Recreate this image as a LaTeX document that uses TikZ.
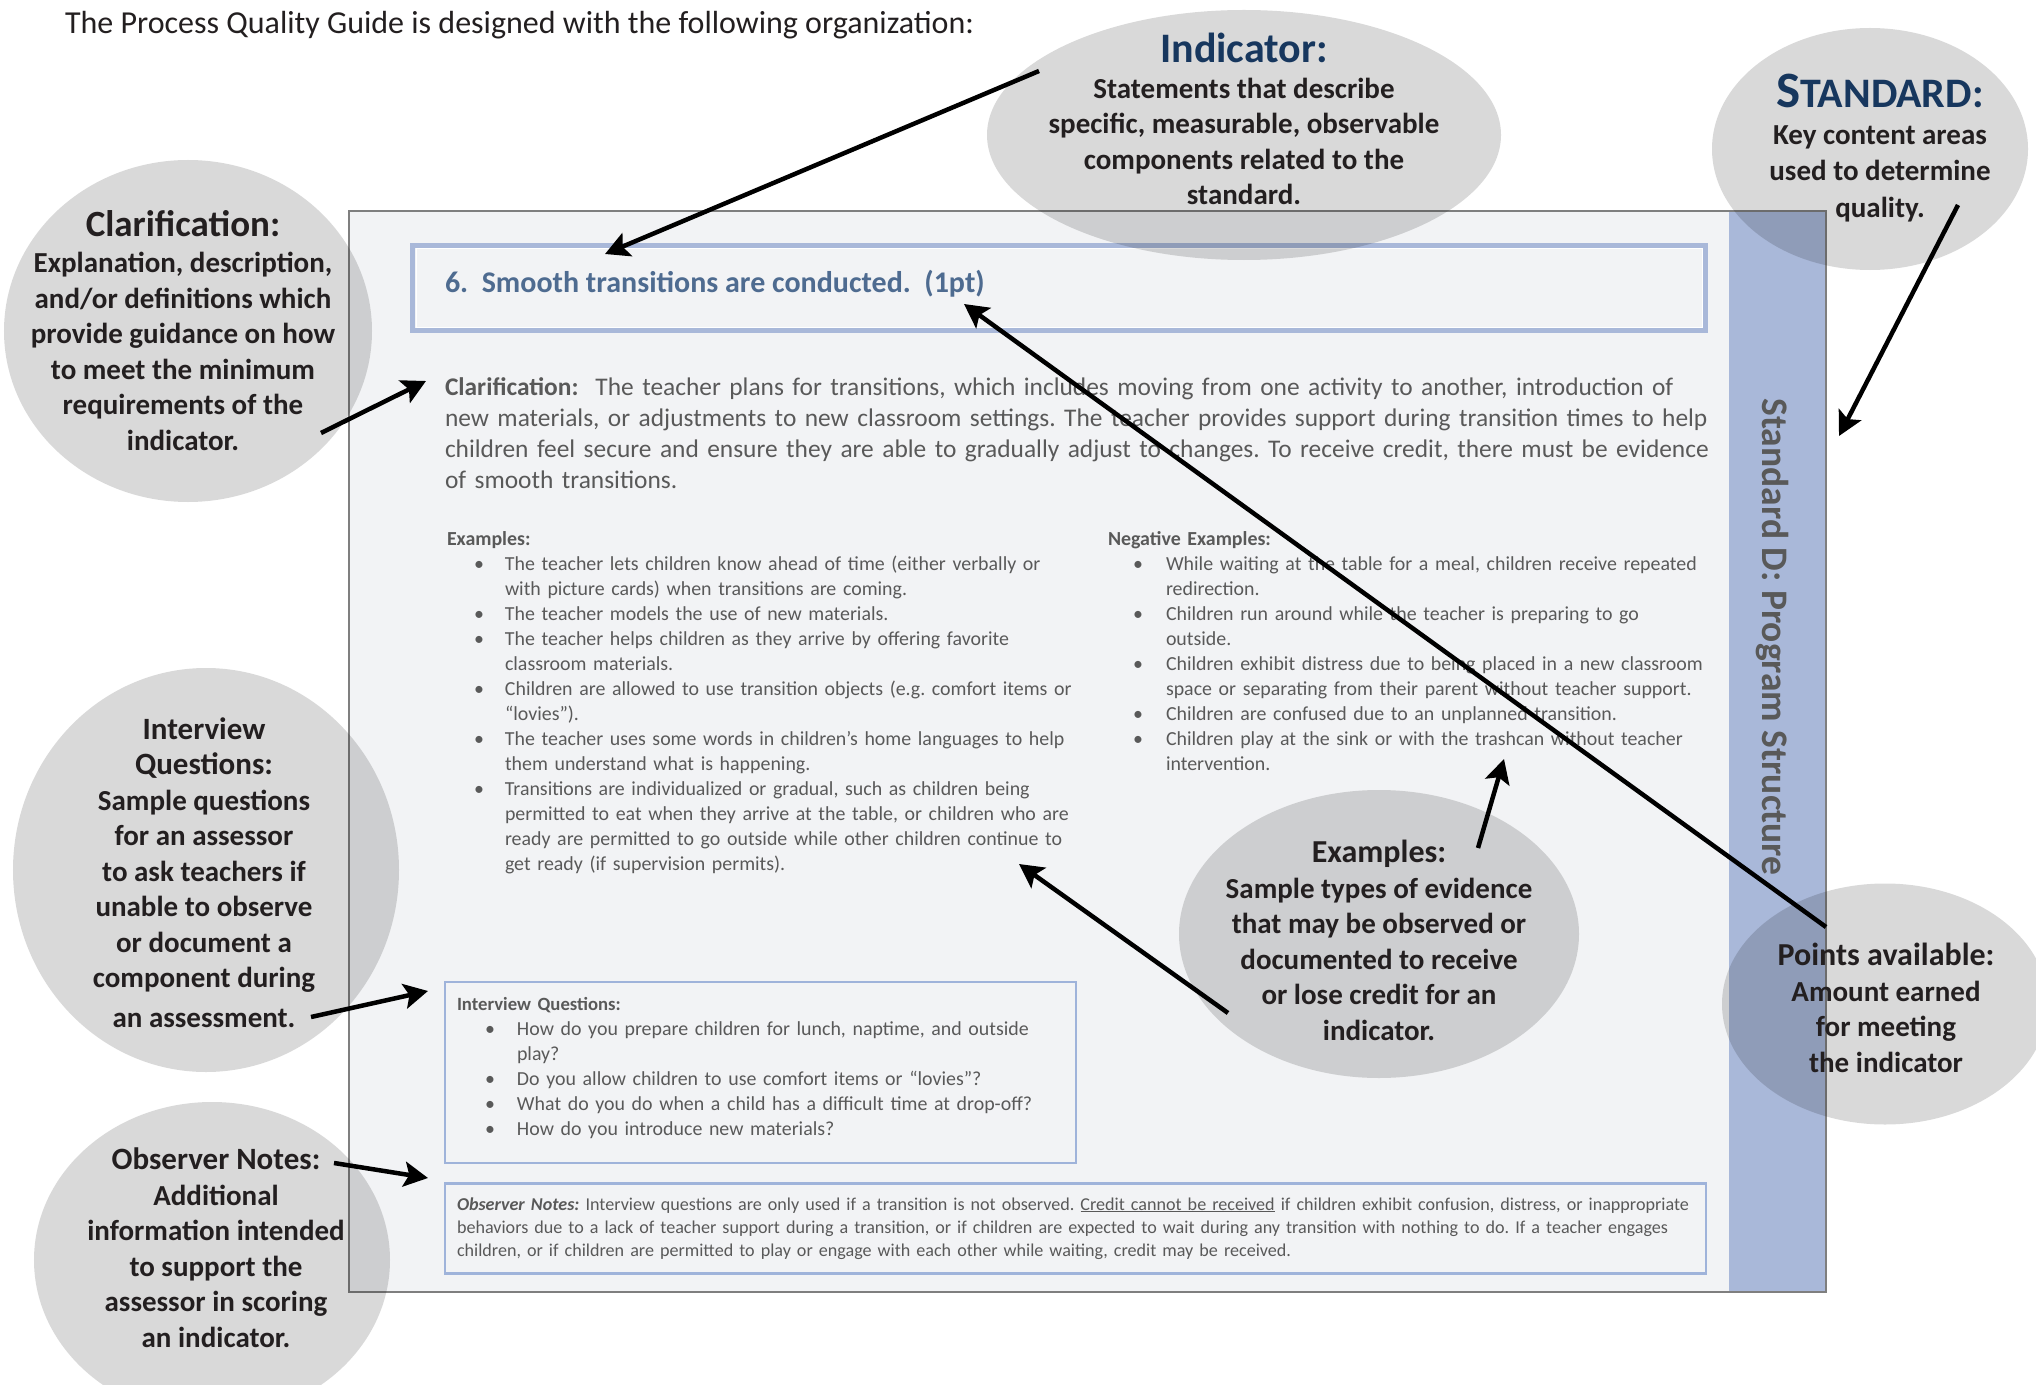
\documentclass[tikz,border=0pt]{standalone}
\usepackage{fontspec}
\setmainfont{Carlito}
\usetikzlibrary{arrows.meta,shapes.geometric}
\definecolor{navy}{HTML}{17375E}
\definecolor{bodygray}{HTML}{595959}
\definecolor{stripgray}{HTML}{595959}
\definecolor{titleblue}{HTML}{4E6B90}
\definecolor{bubbletext}{HTML}{231F20}
\definecolor{stripblue}{HTML}{A9B8D9}
\definecolor{boxblue}{HTML}{9FB3DA}
\definecolor{paper}{HTML}{F2F3F5}
\definecolor{framegray}{HTML}{7F7F7F}
\newcommand\myfs[2]{\fontsize{#1bp}{#2bp}\selectfont}
\newcommand\bitem[3]{\par\hangindent=#2bp\hangafter=1\noindent\makebox[#2bp][l]{\hspace*{#1bp}\textbullet}#3}
\frenchspacing
\begin{document}
\begin{tikzpicture}[x=1bp,y=-1bp]
\tikzset{
  every node/.style={inner sep=0pt,outer sep=0pt},
  bubble/.style={ellipse,fill=black,fill opacity=0.15,draw=none},
  btext/.style={align=center,text=bubbletext,font=\myfs{29}{35.5}\bfseries,anchor=base},
  callout/.style={line width=4.5bp,draw=black,-{Stealth[length=24bp,width=25bp,inset=5bp]}},
  bodytext/.style={align=left,text=bodygray,anchor=base west},
  inbox/.style={draw=boxblue,fill=paper,anchor=north west},
}
\useasboundingbox (0,0) rectangle (2036,1385);
\fill[white] (0,0) rectangle (2036,1385);
% frame
\node[fill=paper,minimum width=1477bp,minimum height=1081bp,anchor=north west] (frame) at (349,211) {};
\node[fill=stripblue,minimum width=97bp,minimum height=1081bp,anchor=north west] (strip) at (1729,211) {};
\draw[framegray,line width=1.5bp] (frame.north west) rectangle (frame.south east);
\node[rotate=-90,font=\myfs{37.5}{40}\bfseries,text=stripgray] (striptext) at (1772,637) {Standard D: Program Structure};
% indicator box
\node[draw=stripblue,line width=5bp,fill=paper,minimum width=1293bp,minimum height=85bp,anchor=north west] (indbox) at (412.5,245.5) {};
\draw[white,line width=1bp] ([shift={(3.5bp,-3.5bp)}]indbox.north west) rectangle ([shift={(-3.5bp,3.5bp)}]indbox.south east);
\node[anchor=base west,font=\myfs{30}{36}\bfseries,text=titleblue] (indtitle) at (445,293) {6.\ \ Smooth transitions are conducted.\ \ (1pt)};
% clarification paragraph
\node[bodytext,text width=1400bp,font=\myfs{25.4}{31}] (clartext) at (445,395) {\textbf{Clarification:}\ \ The teacher plans for transitions, which includes moving from one activity to another, introduction of\newline
new materials, or adjustments to new classroom settings. The teacher provides support during transition times to help\newline
children feel secure and ensure they are able to gradually adjust to changes. To receive credit, there must be evidence\newline
of smooth transitions.\par};
% examples
\node[bodytext,text width=700bp,font=\myfs{19.9}{25}] (extext) at (447,545) {\textbf{Examples:}
\bitem{27}{58}{The teacher lets children know ahead of time (either verbally or\newline with picture cards) when transitions are coming.}
\bitem{27}{58}{The teacher models the use of new materials.}
\bitem{27}{58}{The teacher helps children as they arrive by offering favorite\newline classroom materials.}
\bitem{27}{58}{Children are allowed to use transition objects (e.g. comfort items or\newline “lovies”).}
\bitem{27}{58}{The teacher uses some words in children’s home languages to help\newline them understand what is happening.}
\bitem{27}{58}{Transitions are individualized or gradual, such as children being\newline permitted to eat when they arrive at the table, or children who are\newline ready are permitted to go outside while other children continue to\newline get ready (if supervision permits).}\par};
% negative examples
\node[bodytext,text width=640bp,font=\myfs{19.9}{25}] (negtext) at (1108,545) {\textbf{Negative Examples:}
\bitem{25}{58}{While waiting at the table for a meal, children receive repeated\newline redirection.}
\bitem{25}{58}{Children run around while the teacher is preparing to go\newline outside.}
\bitem{25}{58}{Children exhibit distress due to being placed in a new classroom\newline space or separating from their parent without teacher support.}
\bitem{25}{58}{Children are confused due to an unplanned transition.}
\bitem{25}{58}{Children play at the sink or with the trashcan without teacher\newline intervention.}\par};
% interview box
\node[inbox,line width=2bp,minimum width=631bp,minimum height=181bp] (iqbox) at (444.5,981.5) {};
\node[bodytext,text width=600bp,font=\myfs{19.9}{25}] (iqtext) at (457,1010) {{\myfs{18.7}{25}\textbf{Interview Questions:}}
\bitem{28}{60}{How do you prepare children for lunch, naptime, and outside\newline play?}
\bitem{28}{60}{Do you allow children to use comfort items or “lovies”?}
\bitem{28}{60}{What do you do when a child has a difficult time at drop-off?}
\bitem{28}{60}{How do you introduce new materials?}\par};
% observer notes box
\node[inbox,line width=2.5bp,minimum width=1261bp,minimum height=90bp] (obsbox) at (445,1183.5) {};
\node[bodytext,text width=1300bp,font=\myfs{18.1}{23}] (obstext) at (457,1210) {\textbf{\textit{Observer Notes:}} Interview questions are only used if a transition is not observed. \underline{Credit cannot be received} if children exhibit confusion, distress, or inappropriate\newline
behaviors due to a lack of teacher support during a transition, or if children are expected to wait during any transition with nothing to do. If a teacher engages\newline
children, or if children are permitted to play or engage with each other while waiting, credit may be received.\par};
% heading
\node[anchor=base west,font=\myfs{32}{38},text=bubbletext] (head) at (65,34) {The Process Quality Guide is designed with the following organization:};
% bubbles
\node[bubble,minimum width=514bp,minimum height=250bp] (indE) at (1244,135) {};
\node[bubble,minimum width=316bp,minimum height=242bp] (stdE) at (1870,149) {};
\node[bubble,minimum width=368bp,minimum height=342bp] (clarE) at (188,331) {};
\node[bubble,minimum width=386bp,minimum height=404bp] (iqE) at (206,870) {};
\node[bubble,minimum width=356bp,minimum height=316bp] (obsE) at (212,1260) {};
\node[bubble,minimum width=400bp,minimum height=288bp] (exE) at (1379,934) {};
\node[bubble,minimum width=326bp,minimum height=241bp] (ptsE) at (1885,1004) {};
% bubble texts (anchor = baseline of last line)
\node[btext] (indT) at (1244,205) {{\myfs{42}{42}\color{navy}Indicator:}\\ Statements that describe\\ specific, measurable, observable\\ components related to the\\ standard.};
\node[btext] (stdT) at (1880,218) {{\color{navy}\myfs{51}{51}S\myfs{42}{42}TANDARD:}\\[2bp] Key content areas\\ used to determine\\[2bp] quality.};
\node[btext] (clarT) at (183,450) {{\myfs{37}{37}Clarification:}\\ Explanation, description,\\ and/or definitions which\\ provide guidance on how\\ to meet the minimum\\ requirements of the\\ indicator.};
\node[btext] (iqT) at (204,1027) {{\myfs{31}{31}Interview}\\ {\myfs{31}{31}Questions:}\\ Sample questions\\ for an assessor\\ to ask teachers if\\ unable to observe\\ or document a\\ component during\\[4bp] an assessment.};
\node[btext] (obsT) at (216,1347) {{\myfs{31}{31}Observer Notes:}\\ Additional\\ information intended\\ to support the\\ assessor in scoring\\ an indicator.};
\node[btext] (exT) at (1379,1040) {{\myfs{32}{32}Examples:}\\ Sample types of evidence\\ that may be observed or\\ documented to receive\\ or lose credit for an\\ indicator.};
\node[btext] (ptsT) at (1886,1072) {{\myfs{32}{32}Points available:}\\ Amount earned\\ for meeting\\ the indicator};
% arrows
\coordinate (a1s) at (1039,71);  \coordinate (a1e) at (605,254);
\coordinate (a2s) at (1958,205); \coordinate (a2e) at (1839,436);
\coordinate (a3s) at (321,433);  \coordinate (a3e) at (426,381);
\coordinate (a4s) at (311,1017); \coordinate (a4e) at (428,991);
\coordinate (a5s) at (334,1163); \coordinate (a5e) at (428,1178);
\coordinate (a6s) at (1228,1013);\coordinate (a6e) at (1019,864);
\coordinate (a7s) at (1478,848); \coordinate (a7e) at (1504,759);
\coordinate (a8s) at (1826,927); \coordinate (a8e) at (964,304);
\draw[callout] (a1s) -- (a1e);
\draw[callout] (a2s) -- (a2e);
\draw[callout] (a3s) -- (a3e);
\draw[callout] (a4s) -- (a4e);
\draw[callout] (a5s) -- (a5e);
\draw[callout] (a6s) -- (a6e);
\draw[callout] (a7s) -- (a7e);
\draw[callout] (a8s) -- (a8e);
\end{tikzpicture}
\end{document}
